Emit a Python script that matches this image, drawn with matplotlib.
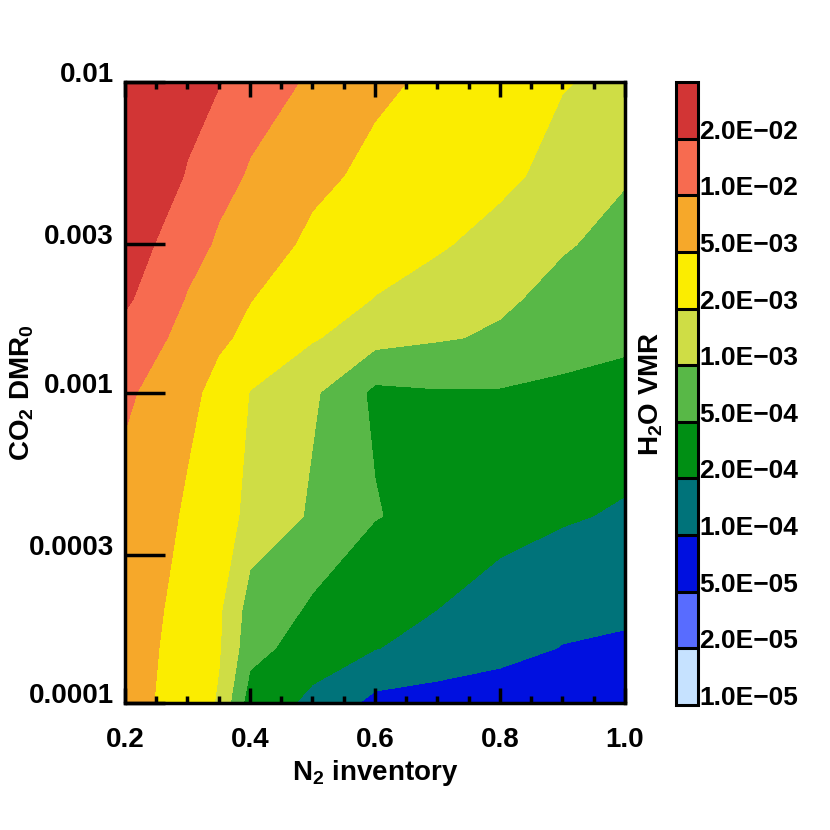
import numpy as np
import matplotlib
matplotlib.use('Agg')
import matplotlib.pyplot as plt
from matplotlib.ticker import MultipleLocator, NullLocator, FormatStrFormatter

plt.rcParams['font.family'] = ['Liberation Sans', 'DejaVu Sans']
plt.rcParams['font.weight'] = 'bold'
plt.rcParams['axes.labelweight'] = 'bold'
plt.rcParams['mathtext.fontset'] = 'custom'
plt.rcParams['mathtext.rm'] = 'Liberation Sans:bold'
plt.rcParams['mathtext.it'] = 'Liberation Sans:bold'
plt.rcParams['mathtext.bf'] = 'Liberation Sans:bold'

# N2 inventory (x) and CO2 DMR0 (y) grid
n2_inventory = [0.2, 0.3, 0.35, 0.4, 0.5, 0.6, 0.7, 0.8, 0.9, 1.0]
co2_dmr = [1e-4, 1.5e-4, 2e-4, 4e-4, 1e-3, 1.5e-3, 2e-3, 3e-3, 5e-3, 1e-2]

# log10 of H2O VMR, one row per CO2 value
log_h2o = [
    [-2.12, -2.51, -2.73, -3.45, -3.79, -4.07, -4.11, -4.13, -4.15, -4.17],
    [-2.10, -2.47, -2.67, -3.18, -3.48, -3.69, -3.80, -3.91, -4.01, -4.04],
    [-2.09, -2.43, -2.65, -3.12, -3.34, -3.52, -3.70, -3.83, -3.91, -3.95],
    [-2.07, -2.34, -2.57, -2.77, -3.04, -3.285, -3.41, -3.55, -3.66, -3.74],
    [-1.95, -2.21, -2.41, -2.71, -2.95, -3.36, -3.32, -3.32, -3.34, -3.35],
    [-1.79, -2.10, -2.24, -2.38, -2.67, -2.88, -2.97, -3.04, -3.21, -3.27],
    [-1.65, -2.02, -2.16, -2.29, -2.51, -2.71, -2.83, -2.95, -3.09, -3.19],
    [-1.54, -1.88, -2.04, -2.15, -2.36, -2.51, -2.66, -2.82, -2.97, -3.10],
    [-1.38, -1.72, -1.89, -2.03, -2.22, -2.38, -2.52, -2.60, -2.84, -2.97],
    [-1.28, -1.55, -1.68, -1.82, -2.05, -2.22, -2.38, -2.53, -2.67, -2.82],
]

# contour levels (VMR) and their colours
vmr_levels = [1e-5, 2e-5, 5e-5, 1e-4, 2e-4, 5e-4, 1e-3, 2e-3, 5e-3, 1e-2, 2e-2, 1e-1]
colors = ['#c6e2ff', '#586cff', '#0010e0', '#00737a', '#008f14', '#58b847',
          '#cfdd45', '#fbed00', '#f6a82a', '#f76b50', '#d23535']

y_ticks = [1e-4, 3e-4, 1e-3, 3e-3, 1e-2]
y_ticklabels = ['0.0001', '0.0003', '0.001', '0.003', '0.01']

fig = plt.figure(figsize=(8.3, 8.3), dpi=100)
ax = fig.add_axes([0.1506, 0.153, 0.6024, 0.7482])

cs = ax.contourf(n2_inventory, co2_dmr, log_h2o, levels=np.log10(vmr_levels), colors=colors)
ax.set_yscale('log')
ax.set_xlim(0.2, 1.0)
ax.set_ylim(1e-4, 1e-2)

ax.set_yticks(y_ticks)
ax.set_yticklabels(y_ticklabels)
ax.yaxis.set_minor_locator(NullLocator())
ax.xaxis.set_major_locator(MultipleLocator(0.2))
ax.xaxis.set_minor_locator(MultipleLocator(0.05))
ax.xaxis.set_major_formatter(FormatStrFormatter('%.1f'))

ax.tick_params(axis='x', which='major', direction='in', length=11, width=2.5,
               top=True, labelsize=20, pad=17)
ax.tick_params(axis='x', which='minor', direction='in', length=5, width=2.5, top=True)
ax.tick_params(axis='y', which='major', direction='in', length=29, width=2.5,
               right=False, labelsize=20, pad=8)
for t in ax.get_yticklabels():
    t.set_va('baseline')
for s in ax.spines.values():
    s.set_linewidth(2.5)

ax.set_xlabel('N$_2$ inventory', fontsize=20)
ax.xaxis.set_label_coords(0.5, -0.088)
ax.set_ylabel('CO$_2$ DMR$_0$', fontsize=20)
ax.yaxis.set_label_coords(-0.178, 0.5)

# colour bar
cax = fig.add_axes([0.8145, 0.1506, 0.0265, 0.7506])
cb = fig.colorbar(cs, cax=cax, drawedges=True)
cb.set_ticks(np.log10(vmr_levels[:-1]))
cb.set_ticklabels([('%.1E' % v).replace('-', '\u2212') for v in vmr_levels[:-1]])
cb.ax.tick_params(length=0, pad=1, labelsize=19)
for t in cb.ax.get_yticklabels():
    t.set_va('baseline')
cb.outline.set_linewidth(2.2)
cb.dividers.set_linewidth(2.2)
cb.ax.yaxis.set_label_position('left')
cb.set_label('H$_2$O VMR', fontsize=20, fontweight='bold')
cb.ax.yaxis.set_label_coords(-0.5, 0.5)

fig.savefig('out.png', dpi=100)
